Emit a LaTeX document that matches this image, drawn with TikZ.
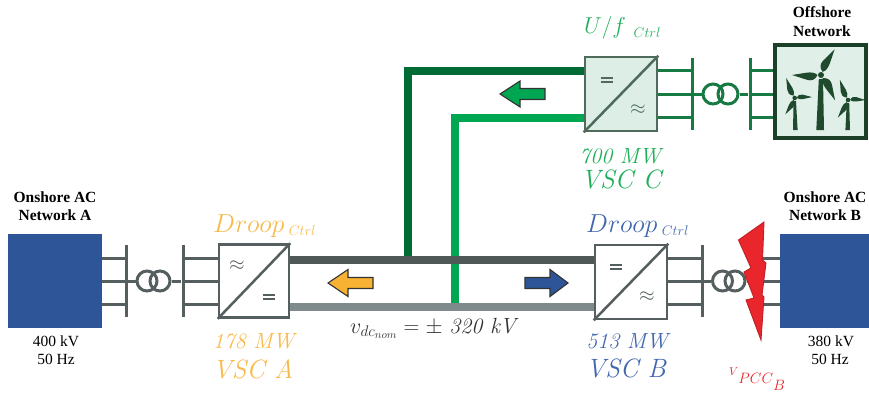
\RequirePackage{fix-cm}
\documentclass[tikz,border=0pt]{standalone}
\usepackage{fontspec}
\newfontfamily\labelfont{Liberation Serif}
\usetikzlibrary{calc}

\definecolor{netblue}{HTML}{2E5597}
\definecolor{convgray}{HTML}{565F5F}
\definecolor{dcdark}{HTML}{4F5757}
\definecolor{dclight}{HTML}{7F8A8C}
\definecolor{gdark}{HTML}{006B35}
\definecolor{glight}{HTML}{00A651}
\definecolor{gac}{HTML}{177A43}
\definecolor{gbox}{HTML}{DDEEE7}
\definecolor{gboxline}{HTML}{4E6B5C}
\definecolor{offfill}{HTML}{E1EFE9}
\definecolor{offline}{HTML}{1B3F27}
\definecolor{turbinecol}{HTML}{204A2E}
\definecolor{aorange}{HTML}{F7B234}
\definecolor{ablue}{HTML}{2E5597}
\definecolor{torange}{HTML}{F9B949}
\definecolor{tblue}{HTML}{4268AE}
\definecolor{tgreen}{HTML}{1FAF5A}
\definecolor{boltred}{HTML}{E8262B}
\definecolor{boltedge}{HTML}{C21F25}
\definecolor{textdark}{HTML}{333333}

\tikzset{
  netbox/.style={rectangle, fill=netblue, inner sep=0, minimum width=94pt, minimum height=94pt},
  convbox/.style={rectangle, draw=convgray, fill=white, line width=2.7pt, inner sep=0,
                  minimum width=70pt, minimum height=73pt},
  convboxC/.style={convbox, draw=gboxline, fill=gbox},
  convframe/.style={rectangle, draw=convgray, line width=2.7pt, inner sep=0},
  convdiag/.style={draw=convgray, line width=2.5pt},
  busbar/.style={rectangle, fill=convgray, inner sep=0, minimum width=3pt, minimum height=72pt},
  busbarC/.style={busbar, fill=gac},
  xwinding/.style={circle, draw=convgray, line width=3pt, inner sep=0, minimum size=20pt},
  xwindingC/.style={xwinding, draw=gac},
  acline/.style={draw=convgray, line width=3pt},
  aclineC/.style={draw=gac, line width=3pt},
  dcpos/.style={draw=dcdark, line width=8pt},
  dcneg/.style={draw=dclight, line width=8pt},
  feedpos/.style={draw=gdark, line width=8pt, line join=miter},
  feedneg/.style={draw=glight, line width=8pt, line join=miter},
  flowarrow/.style={draw=textdark, line width=1.1pt, line join=miter},
  acsym/.style={inner sep=0, font=\fontsize{20}{20}\selectfont},
  title/.style={inner sep=0, anchor=base, font=\labelfont\bfseries\fontsize{15.5}{18}\selectfont},
  rating/.style={inner sep=0, anchor=base, font=\labelfont\fontsize{15.5}{18}\selectfont},
  ctrl/.style={inner sep=0, anchor=base west},
  power/.style={inner sep=0, anchor=base, font=\fontsize{22}{26}\selectfont\itshape},
  station/.style={inner sep=0, anchor=base, font=\fontsize{26.5}{30}\selectfont\itshape},
  blade/.pic={\fill[turbinecol] (3.5,0) .. controls (6,-5.4) and (10,-6) .. (14,-4.8)
               -- (29,0) -- (14,2.4) .. controls (10,2.8) and (6,2.6) .. (3.5,0) -- cycle;},
}

% "=" symbol of a converter, centred on a coordinate
\newcommand\eqsym[2]{%
  \fill[#2] ($(#1)+(-6,-2.8)$) rectangle ($(#1)+(6,-0.9)$);
  \fill[#2] ($(#1)+(-6,0.9)$) rectangle ($(#1)+(6,2.8)$);}

\begin{document}
\begin{tikzpicture}[x=1pt, y=-1pt]
\useasboundingbox (0,0) rectangle (869,394);

% ---------- onshore network A side ----------
\node[netbox] (netA) at (55,281) {};
\node[busbar] (busA1) at (126,281) {};
\node[xwinding] (tA1) at (147,281) {};
\node[xwinding] (tA2) at (160,281) {};
\node[busbar] (busA2) at (183,281) {};
\node[convbox] (vscA) at (254,281) {};

\foreach \dy in {-23,0,23}{
  \draw[acline] ([yshift=\dy pt]netA.east) -- ([yshift=\dy pt]busA1.center);
  \draw[acline] ([yshift=\dy pt]busA2.center) -- ([yshift=\dy pt]vscA.west);
}
\draw[acline] (busA1) -- (tA1);
\draw[acline] (tA2) -- (busA2);

% ---------- onshore network B side ----------
\node[convbox, minimum width=72pt, minimum height=74pt] (vscB) at (631,282) {};
\node[busbar] (busB1) at (702,281) {};
\node[xwinding] (tB1) at (722.5,281) {};
\node[xwinding] (tB2) at (735,281) {};
\node[busbar] (busB2) at (756,281) {};
\node[netbox, minimum width=92pt] (netB) at (826,281) {};

\foreach \dy in {-23,0,23}{
  \draw[acline] ([yshift=\dy pt]vscB.east |- busB1.center) -- ([yshift=\dy pt]busB1.center);
  \draw[acline] ([yshift=\dy pt]busB2.center) -- ([yshift=\dy pt]busB2.center -| netB.west);
}
\draw[acline] (busB1) -- (tB1);
\draw[acline] (tB2) -- (busB2);

% ---------- offshore side ----------
\node[convboxC, minimum width=72pt, minimum height=74pt] (vscC) at (621,94) {};
\node[busbarC] (busC1) at (692,94) {};
\node[xwindingC] (tC1) at (713,94) {};
\node[xwindingC] (tC2) at (728,94) {};
\node[busbarC] (busC2) at (750,94) {};
\node[rectangle, draw=offline, fill=offfill, line width=4pt, inner sep=0,
      minimum width=91pt, minimum height=93pt] (offshore) at (820.5,91.5) {};

\foreach \dy in {-23.5,0,23.5}{
  \draw[aclineC] ([yshift=\dy pt]vscC.east) -- ([yshift=\dy pt]vscC.east -| busC1.center);
  \draw[aclineC] ([yshift=\dy pt]busC2.center) -- ([yshift=\dy pt]busC2.center -| offshore.west);
}
\draw[aclineC] (busC1) -- (tC1);
\draw[aclineC] (tC2) -- (busC2);

% converter symbols
\draw[convdiag] (vscA.south west) -- (vscA.north east);
\draw[convdiag] (vscB.south west) -- (vscB.north east);
\draw[convdiag, draw=gboxline] (vscC.south west) -- (vscC.north east);

\node[acsym, text=convgray] (acA) at (237,266) {$\approx$};
\node[acsym, text=convgray] (acB) at (647,297) {$\approx$};
\node[acsym, text=gboxline] (acC) at (638,110) {$\approx$};
\coordinate (dcA) at (269,297);
\coordinate (dcB) at (616,267);
\coordinate (dcC) at (607,80);
\eqsym{dcA}{convgray}
\eqsym{dcB}{convgray}
\eqsym{dcC}{gboxline}

% ---------- DC grid ----------
\coordinate (tapPos) at (408,260);
\coordinate (tapNeg) at (455,307);
\draw[feedpos] (tapPos) |- ([yshift=23pt]vscC.west);
\draw[feedneg] (tapNeg) |- ([yshift=-23.5pt]vscC.west);
\draw[dcpos] ([yshift=21pt]vscA.east) -- ([yshift=21pt]vscA.east -| vscB.west);
\draw[dcneg] ([yshift=-26pt]vscA.east) -- ([yshift=-26pt]vscA.east -| vscB.west);

% converter frames on top of the line ends
\node[convframe, minimum width=70pt, minimum height=73pt] (frameA) at (vscA) {};
\node[convframe, minimum width=72pt, minimum height=74pt] (frameB) at (vscB) {};
\node[convframe, draw=gboxline, minimum width=72pt, minimum height=74pt] (frameC) at (vscC) {};

% power flow arrows
\draw[flowarrow, fill=aorange] (328,283) -- (348,269.5) -- (348,277.5) -- (373,277.5)
  -- (373,288.5) -- (348,288.5) -- (348,296.5) -- cycle;
\draw[flowarrow, fill=ablue] (568,283) -- (550,269.5) -- (550,277.5) -- (525,277.5)
  -- (525,288.5) -- (550,288.5) -- (550,296.5) -- cycle;
\draw[flowarrow, fill=glight] (500,94) -- (520,81) -- (520,88.5) -- (545,88.5)
  -- (545,99.5) -- (520,99.5) -- (520,107) -- cycle;

% fault at the point of common coupling
\draw[fill=boltred, draw=boltedge, line width=0.9pt, line join=miter]
  (764,222) -- (738.5,240) -- (751,268) -- (744,272) -- (754,298) -- (746,300)
  -- (761,340) -- (764,297) -- (762,295) -- (766,263) -- (762.5,260) -- cycle;

% wind turbines
\fill[turbinecol] (818.8,79) -- (823,79) -- (824,130) -- (816.3,130) -- cycle;
\pic[rotate=-61] at (821,75) {blade};
\pic[rotate=180] at (821,75) {blade};
\pic[rotate=62] at (821,75) {blade};
\fill[turbinecol] (821,75) circle (3);

\fill[turbinecol] (793.6,101) -- (796,101) -- (797.6,130) -- (793,130) -- cycle;
\pic[rotate=-120, scale=0.65] at (794.7,98) {blade};
\pic[rotate=3, scale=0.6] at (794.7,98) {blade};
\pic[rotate=113, scale=0.75] at (794.7,98) {blade};
\fill[turbinecol] (794.7,98) circle (2.3);

\fill[turbinecol] (846.7,103) -- (849.2,103) -- (850,130) -- (845.4,130) -- cycle;
\pic[rotate=-120, scale=0.7] at (848,100) {blade};
\pic[rotate=0, scale=0.6] at (848,100) {blade};
\pic[rotate=112, scale=0.75] at (848,100) {blade};
\fill[turbinecol] (848,100) circle (2.3);

% ---------- labels ----------
\node[title] (labA1) at (55,202) {Onshore AC};
\node[title] (labA2) at (55,220) {Network A};
\node[rating] (ratA1) at (56,346) {400 kV};
\node[rating] (ratA2) at (56,364) {50 Hz};

\node[title] (labB1) at (825,202) {Onshore AC};
\node[title] (labB2) at (825,220) {Network B};
\node[rating] (ratB1) at (831,346) {380 kV};
\node[rating] (ratB2) at (830,364) {50 Hz};

\node[title] (labO1) at (822,17) {Offshore};
\node[title] (labO2) at (822,36) {Network};

\node[ctrl, text=torange] (ctrlA) at (213,232)
  {\fontsize{26}{30}\selectfont$Droop$\,\raisebox{-3pt}{\fontsize{14}{16}\selectfont$Ctrl$}};
\node[power, text=torange] (powA) at (253.5,348) {178 MW};
\node[station, text=torange] (nameA) at (253,378) {VSC A};

\node[ctrl, text=tblue] (ctrlB) at (586,232)
  {\fontsize{26}{30}\selectfont$Droop$\,\raisebox{-3pt}{\fontsize{14}{16}\selectfont$Ctrl$}};
\node[power, text=tblue] (powB) at (627,348) {513 MW};
\node[station, text=tblue] (nameB) at (626,377) {VSC B};

\node[ctrl, text=tgreen] (ctrlC) at (584,33)
  {\fontsize{23}{28}\selectfont$U/f$\,\raisebox{-4pt}{\fontsize{14}{16}\selectfont$\;Ctrl$}};
\node[power, text=tgreen] (powC) at (620,163) {700 MW};
\node[station, text=tgreen] (nameC) at (621,188) {VSC C};

\node[inner sep=0, anchor=base west, text=textdark] (vdc) at (350,333)
  {\fontsize{22}{26}\selectfont$v_{dc_{nom}} = \pm$ \textit{320 kV}};

\node[inner sep=0, anchor=base west, text=boltred] (vpcc) at (729,383.5)
  {\fontsize{15}{18}\selectfont\raisebox{8pt}{\fontsize{11.5}{14}\selectfont$V$}$PCC$\raisebox{-7pt}{$B$}};
\end{tikzpicture}
\end{document}
